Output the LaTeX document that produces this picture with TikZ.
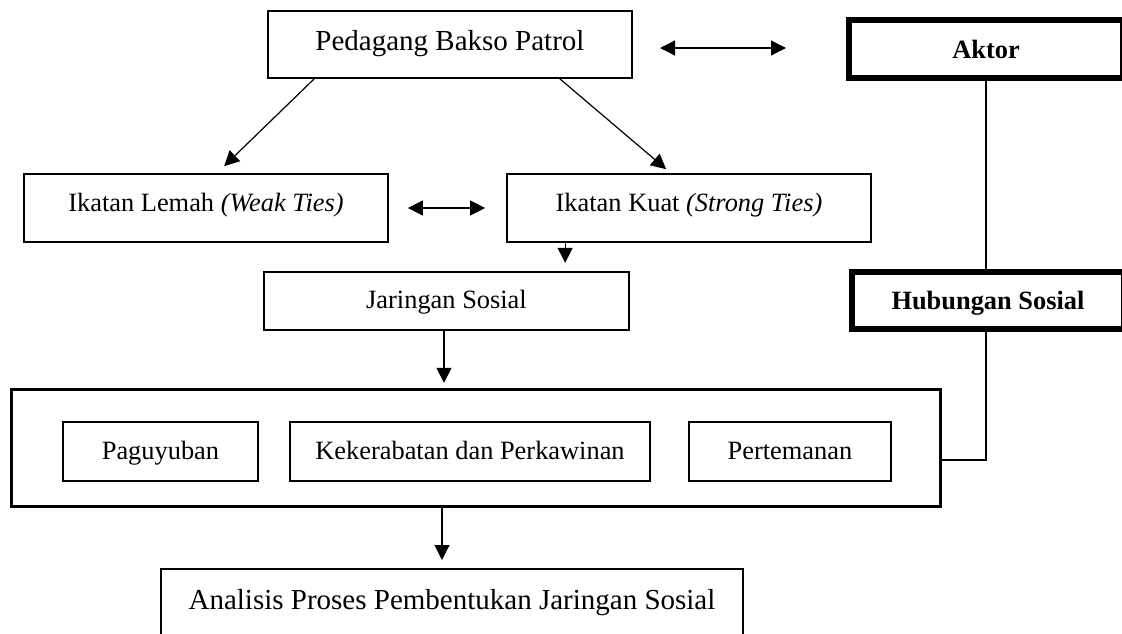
\documentclass[tikz,border=0pt]{standalone}
\usepackage{fontspec}
\setmainfont{Liberation Serif}
\usetikzlibrary{arrows.meta}
\begin{document}
\begin{tikzpicture}[x=1pt,y=-1pt,
  box/.style={draw, line width=1.7pt, inner sep=0pt, text depth=0pt,
    font=\fontsize{26.4pt}{30pt}\selectfont},
  bigtext/.style={font=\fontsize{29pt}{33pt}\selectfont},
  thickbox/.style={draw, line width=5.5pt, inner sep=0pt, text depth=0pt,
    font=\fontsize{26.4pt}{30pt}\selectfont\bfseries},
  conn/.style={line width=1.2pt},
  arr/.style={conn, -{Triangle[length=15pt,width=15pt]}},
  darr/.style={conn, {Triangle[length=15pt,width=15pt]}-{Triangle[length=15pt,width=15pt]}}
]
\useasboundingbox (0,0) rectangle (1122,633);

% main boxes
\node[box, bigtext, minimum width=364pt, minimum height=67pt, text height=12pt] (ped) at (450,44.5) {Pedagang Bakso Patrol};
\node[box, minimum width=364pt, minimum height=68pt, text height=6pt] (lemah) at (206,208) {Ikatan Lemah \textit{(Weak Ties)}};
\node[box, minimum width=364pt, minimum height=68pt, text height=6pt] (kuat) at (689,208) {Ikatan Kuat \textit{(Strong Ties)}};
\node[box, minimum width=365pt, minimum height=58pt, text height=14pt] (jar) at (446.5,301) {Jaringan Sosial};

% right side thick boxes
\node[thickbox, minimum width=274pt, minimum height=58pt, text height=18pt] (aktor) at (986,49) {Aktor};
\node[thickbox, minimum width=272pt, minimum height=57pt, text height=17pt] (hub) at (988,300.5) {Hubungan Sosial};

% big container and inner boxes
\node[draw, line width=3pt, minimum width=929pt, minimum height=117pt, inner sep=0pt] (big) at (476,448) {};
\node[box, minimum width=195pt, minimum height=59pt, text height=15pt] (pag) at (160.5,451.5) {Paguyuban};
\node[box, minimum width=360pt, minimum height=59pt, text height=15pt] (kek) at (470,451.5) {Kekerabatan dan Perkawinan};
\node[box, minimum width=202pt, minimum height=59pt, text height=15pt] (per) at (790,451.5) {Pertemanan};

% bottom box
\node[box, bigtext, minimum width=582pt, minimum height=100pt, text height=0pt, text depth=20pt] (ana) at (452,619) {Analisis Proses Pembentukan Jaringan Sosial};

% connectors
\coordinate (da) at (660,48);
\coordinate (db) at (786,48);
\draw[darr] (da) -- (db);

\draw[arr] ([xshift=47pt]ped.south west) -- ([xshift=201pt,yshift=7pt]lemah.north west);
\draw[arr] ([xshift=-73pt]ped.south east) -- ([xshift=160pt,yshift=4pt]kuat.north west);

\draw[darr] ([xshift=19pt]lemah.east) -- ([xshift=-21pt]kuat.west);

\draw[arr] ([xshift=59pt]kuat.south west) -- ([xshift=59pt,yshift=-20pt]kuat.south west);
\draw[arr] ([xshift=-2.5pt]jar.south) -- ++(0,52);
\draw[arr] ([xshift=-34pt]big.south) -- ++(0,52);

\draw[conn] (aktor.south) -- (aktor.south |- hub.north);
\coordinate (hb) at (986,460);
\draw[conn] (aktor.south |- hub.south) -- (hb) -- (hb -| big.east);
\end{tikzpicture}
\end{document}
